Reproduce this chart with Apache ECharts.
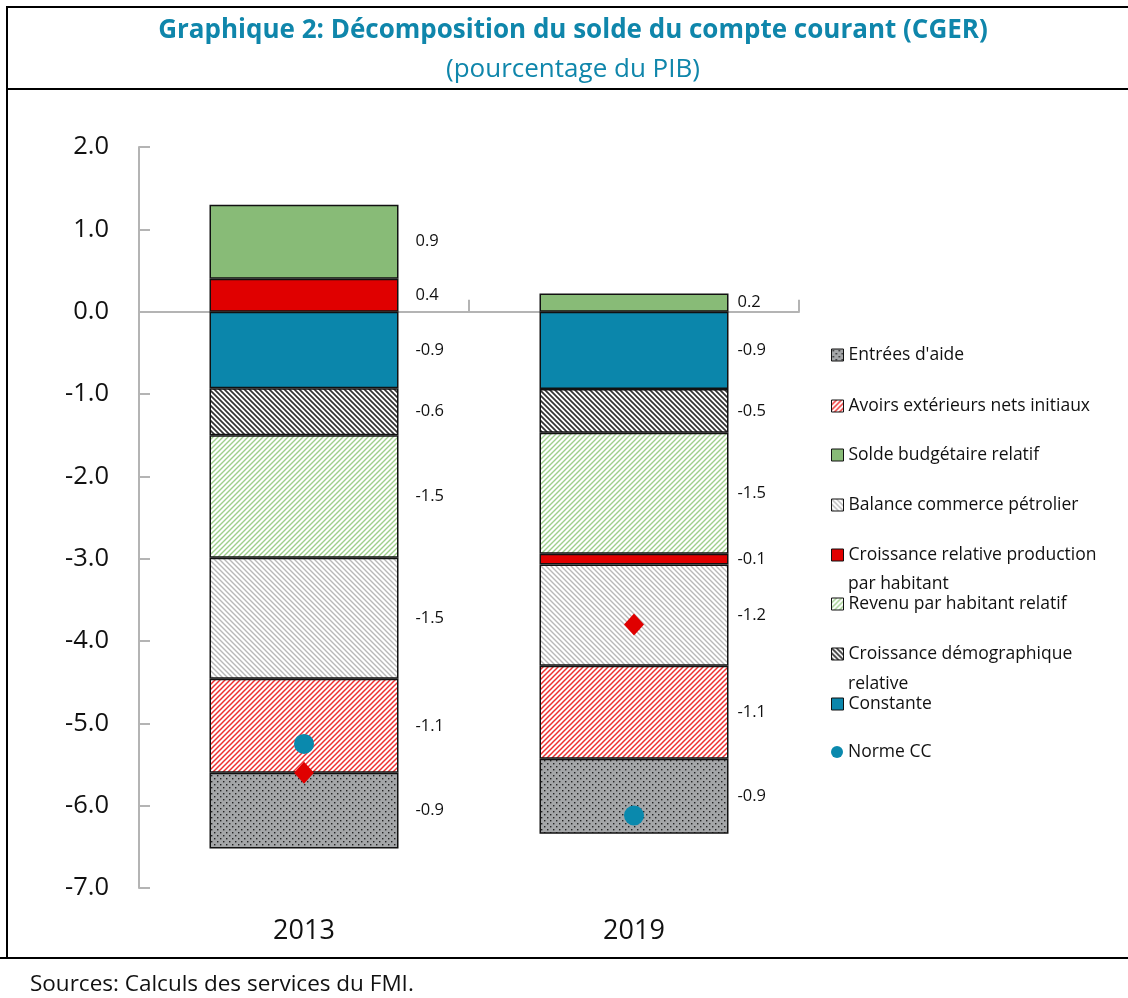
<!DOCTYPE html>
<html>
<head>
<meta charset="utf-8">
<script src="https://cdn.jsdelivr.net/npm/echarts@6/dist/echarts.min.js"></script>
<style>
html, body { margin: 0; padding: 0; background: #fff; }
#chart { width: 1128px; height: 998px; }
</style>
</head>
<body>
<div id="chart"></div>
<script>
// Data (pourcentage du PIB)
const years = ['2013', '2019']
const constante = [-0.93, -0.94]
const croisDemo = [-0.57, -0.53]
const revenuHab = [-1.49, -1.47]
const croisProd = [0.40, -0.13]
const balancePetrol = [-1.47, -1.23]
const avoirsExt = [-1.14, -1.13]
const entreesAide = [-0.92, -0.91]
const soldeBudget = [0.90, 0.22]
const normeCC = [-5.25, -6.12]
const soldeCC = [-5.60, -3.80]
const yTicks = [-7, -6, -5, -4, -3, -2, -1, 0, 1, 2]

const FONT = "'Open Sans', 'Noto Sans', sans-serif"
const TEAL = '#0f86ab'

// Hatch / dot fills
const hatch = (color, dir, size, lw) => {
  const c = document.createElement('canvas')
  c.width = c.height = size
  const ctx = c.getContext('2d')
  ctx.fillStyle = '#fff'
  ctx.fillRect(0, 0, size, size)
  ctx.strokeStyle = color
  ctx.lineWidth = lw
  ctx.beginPath()
  if (dir === '/') {
    ctx.moveTo(-1, size + 1); ctx.lineTo(size + 1, -1)
    ctx.moveTo(-1, 1); ctx.lineTo(1, -1)
    ctx.moveTo(size - 1, size + 1); ctx.lineTo(size + 1, size - 1)
  } else {
    ctx.moveTo(-1, -1); ctx.lineTo(size + 1, size + 1)
    ctx.moveTo(size - 1, -1); ctx.lineTo(size + 1, 1)
    ctx.moveTo(-1, size - 1); ctx.lineTo(1, size + 1)
  }
  ctx.stroke()
  return { image: c, repeat: 'repeat' }
}

const dots = () => {
  const c = document.createElement('canvas')
  c.width = c.height = 6
  const ctx = c.getContext('2d')
  ctx.fillStyle = '#a4a6a8'
  ctx.fillRect(0, 0, 6, 6)
  ctx.fillStyle = '#222'
  ctx.fillRect(1, 1, 1.4, 1.4)
  ctx.fillRect(4, 4, 1.4, 1.4)
  return { image: c, repeat: 'repeat' }
}

const fills = {
  'Constante': '#0b86ab',
  'Croissance démographique relative': hatch('#333', '\\', 5, 1.7),
  'Revenu par habitant relatif': hatch('#9fcf8c', '/', 5, 1.4),
  'Croissance relative production par habitant': '#e00000',
  'Balance commerce pétrolier': hatch('#b8b8b8', '\\', 5, 1.4),
  'Avoirs extérieurs nets initiaux': hatch('#ee3030', '/', 5, 1.5),
  "Entrées d'aide": dots(),
  'Solde budgétaire relatif': '#88bb77'
}

// stacking order from zero outwards
const stackSeries = [
  ['Constante', constante],
  ['Croissance démographique relative', croisDemo],
  ['Revenu par habitant relatif', revenuHab],
  ['Croissance relative production par habitant', croisProd],
  ['Balance commerce pétrolier', balancePetrol],
  ['Avoirs extérieurs nets initiaux', avoirsExt],
  ["Entrées d'aide", entreesAide],
  ['Solde budgétaire relatif', soldeBudget]
]

// Legend (top to bottom)
const legendNames = [
  "Entrées d'aide",
  'Avoirs extérieurs nets initiaux',
  'Solde budgétaire relatif',
  'Balance commerce pétrolier',
  'Croissance relative production par habitant',
  'Revenu par habitant relatif',
  'Croissance démographique relative',
  'Constante',
  'Norme CC'
]
const legendLine1 = [
  "Entrées d'aide",
  'Avoirs extérieurs nets initiaux',
  'Solde budgétaire relatif',
  'Balance commerce pétrolier',
  'Croissance relative production',
  'Revenu par habitant relatif',
  'Croissance démographique',
  'Constante',
  'Norme CC'
]
const legendCenters = [356, 407, 456, 506, 556, 605, 655, 705, 753]
const labelGap = [17, 9]

const chart = echarts.init(document.getElementById('chart'))

const barSeries = stackSeries.map(([name, values]) => ({
  name,
  type: 'bar',
  stack: 'cc',
  xAxisIndex: 0,
  barWidth: 189,
  data: values.map((v, i) => ({ value: v, label: { distance: labelGap[i] } })),
  itemStyle: { color: fills[name], borderColor: '#111', borderWidth: 1.5 },
  label: {
    show: true,
    position: 'right',
    formatter: p => p.value.toFixed(1),
    fontSize: 16.5,
    fontFamily: FONT,
    color: '#111'
  },
  emphasis: { disabled: true }
}))

const frameLine = (x1, y1, x2, y2, w) => ({
  type: 'line',
  shape: { x1, y1, x2, y2 },
  style: { stroke: '#000', lineWidth: w }
})

chart.setOption({
  animation: false,
  backgroundColor: '#fff',
  grid: { left: 139, top: 147, width: 660, height: 741, outerBoundsMode: 'none' },
  xAxis: [
    {
      type: 'category',
      data: years,
      position: 'bottom',
      axisLine: { show: false, onZero: false },
      axisTick: { show: false },
      axisLabel: { fontSize: 27, fontFamily: FONT, color: '#111', margin: 30 }
    },
    {
      type: 'category',
      data: years,
      position: 'bottom',
      axisLine: { show: true, onZero: true, lineStyle: { color: '#b4b4b4', width: 2 } },
      axisTick: { show: true, inside: true, length: 12, lineStyle: { color: '#b4b4b4', width: 2 } },
      axisLabel: { show: false },
      splitLine: { show: false }
    }
  ],
  yAxis: {
    type: 'value',
    min: yTicks[0],
    max: yTicks[yTicks.length - 1],
    interval: 1,
    axisLine: { show: true, lineStyle: { color: '#b4b4b4', width: 2 } },
    axisTick: { show: true, inside: true, length: 11, lineStyle: { color: '#b4b4b4', width: 2 } },
    axisLabel: { fontSize: 25.5, fontFamily: FONT, color: '#111', margin: 30, formatter: v => v.toFixed(1) },
    splitLine: { show: false }
  },
  legend: legendNames.map((name, i) => ({
    data: [name],
    orient: 'vertical',
    left: 831,
    top: legendCenters[i] - 10,
    padding: 0,
    itemWidth: 12,
    itemHeight: 12,
    icon: name === 'Norme CC' ? 'circle' : 'rect',
    selectedMode: false,
    formatter: () => legendLine1[i],
    itemStyle: name === 'Norme CC' ? { borderWidth: 0 } : { borderColor: '#111', borderWidth: 1 },
    textStyle: { fontSize: 17.5, fontFamily: FONT, color: '#111' }
  })),
  graphic: [
    frameLine(7, 7, 1128, 7, 2),
    frameLine(7, 89, 1128, 89, 2),
    frameLine(7, 6, 7, 958, 2),
    frameLine(0, 958, 1128, 958, 2),
    {
      type: 'text', x: 573, y: 31,
      style: { text: 'Graphique 2: Décomposition du solde du compte courant (CGER)', fill: TEAL, font: `bold 26px ${FONT}`, align: 'center', verticalAlign: 'middle' }
    },
    {
      type: 'text', x: 573, y: 70,
      style: { text: '(pourcentage du PIB)', fill: TEAL, font: `26px ${FONT}`, align: 'center', verticalAlign: 'middle' }
    },
    {
      type: 'text', x: 848, y: 584,
      style: { text: 'par habitant', fill: '#111', font: `17.5px ${FONT}`, verticalAlign: 'middle' }
    },
    {
      type: 'text', x: 848, y: 684,
      style: { text: 'relative', fill: '#111', font: `17.5px ${FONT}`, verticalAlign: 'middle' }
    },
    {
      type: 'text', x: 30, y: 985,
      style: { text: 'Sources: Calculs des services du FMI.', fill: '#111', font: `22.5px ${FONT}`, verticalAlign: 'middle' }
    }
  ],
  series: [
    ...barSeries,
    {
      name: 'Norme CC',
      type: 'scatter',
      xAxisIndex: 0,
      data: normeCC,
      symbol: 'circle',
      symbolSize: 20,
      itemStyle: { color: '#0a89ad', opacity: 1 },
      z: 5
    },
    {
      name: 'Solde CC',
      type: 'scatter',
      xAxisIndex: 0,
      data: soldeCC,
      symbol: 'diamond',
      symbolSize: [20, 22],
      itemStyle: { color: '#e00000', opacity: 1 },
      z: 5
    }
  ]
})
</script>
</body>
</html>
